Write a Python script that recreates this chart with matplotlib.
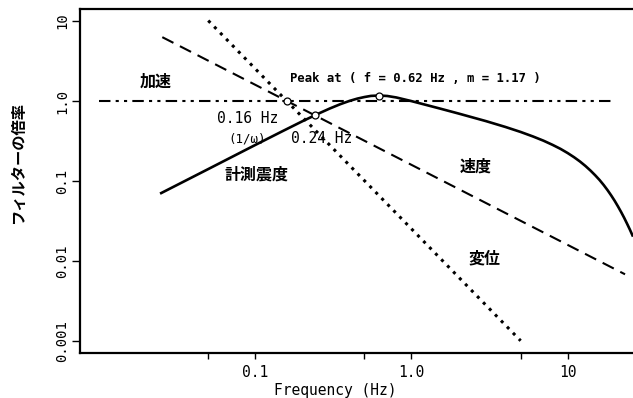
import matplotlib
matplotlib.use("Agg")
import matplotlib.pyplot as plt

# acceleration / velocity / displacement reference lines (Hz, ratio)
acc_f = [0.01, 20.0]
acc_v = [1.0, 1.0]
vel_f = [0.0254, 23.3]
vel_v = [6.27, 0.00683]
dis_f = [0.05, 5.0]
dis_v = [10.1, 0.00101]

# seismic intensity filter curve
jma_f = [0.025, 0.05, 0.1, 0.15, 0.2, 0.25, 0.3, 0.35, 0.4, 0.45, 0.5, 0.55,
         0.62, 0.7, 0.8, 1.0, 1.5, 2.0, 3.0, 4.0, 5.0, 6.0, 7.0, 8.0, 9.0, 10.0,
         11.0, 12.0, 13.0, 14.0, 15.0, 16.0, 17.0, 18.0, 19.0, 20.0, 21.0, 22.0,
         23.0, 24.0, 25.0, 26.0]
jma_v = [0.0707, 0.141, 0.282, 0.421, 0.557, 0.686, 0.805, 0.911, 1.00, 1.07,
         1.12, 1.157, 1.17, 1.154, 1.106, 0.996, 0.810, 0.697, 0.560, 0.473,
         0.410, 0.360, 0.319, 0.283, 0.252, 0.2235, 0.198, 0.175, 0.154, 0.135,
         0.118, 0.103, 0.0892, 0.0769, 0.0660, 0.0565, 0.0481, 0.0409, 0.0347,
         0.0293, 0.0248, 0.0209]

# marked points
pt_f = [0.159, 0.24, 0.62]
pt_v = [1.0, 0.663, 1.17]

xticks = [0.05, 0.1, 0.5, 1.0, 5.0, 10.0]
xtick_labels = ["", "0.1", "", "1.0", "", "10"]
yticks = [0.001, 0.01, 0.1, 1.0, 10.0]
ytick_labels = ["0.001", "0.01", "0.1", "1.0", "10"]

mono = ["DejaVu Sans Mono", "Noto Sans CJK JP"]
jp = ["Noto Sans CJK JP", "DejaVu Sans"]

fig = plt.figure(figsize=(6.33, 3.98), dpi=100)
ax = fig.add_axes([80/633, 1-352.5/398, 553/633, 344/398])

ax.plot(acc_f, acc_v, color="black", lw=1.5, dashes=(5.5, 2.5, 1.5, 2.5, 1.5, 2.5))
ax.plot(vel_f, vel_v, color="black", lw=1.5, dashes=(6, 3.5))
ax.plot(dis_f, dis_v, color="black", lw=2.2, linestyle=(0, (1, 1.8)))
ax.plot(jma_f, jma_v, color="black", lw=1.9)
ax.plot(pt_f, pt_v, "o", ms=5, mfc="white", mec="black", mew=0.9, zorder=5)

ax.set_xscale("log")
ax.set_yscale("log")
ax.set_xlim(0.00755, 26.2)
ax.set_ylim(7.2e-4, 14.3)
ax.minorticks_off()
ax.set_xticks(xticks)
ax.set_xticklabels(xtick_labels, family=mono, fontsize=10.5)
ax.set_yticks(yticks)
ax.set_yticklabels(ytick_labels, family=mono, fontsize=10, rotation=90, va="center")
ax.tick_params(axis="x", length=4, width=1, pad=5)
ax.tick_params(axis="y", length=6, width=1, pad=2)
for s in ["left", "bottom", "top"]:
    ax.spines[s].set_linewidth(1.6)
ax.spines["right"].set_visible(False)

ax.text(0.0229, 1.75, "加速", family=jp, fontsize=11.5, fontweight="bold", ha="center", va="center")
ax.text(0.1675, 1.91, "Peak at ( f = 0.62 Hz , m = 1.17 )", family=mono, fontsize=8.8,
        fontweight="semibold", ha="left", va="center")
ax.text(0.0889, 0.604, "0.16 Hz", family=mono, fontsize=10.5, ha="center", va="center")
ax.text(0.0889, 0.339, "(1/ω)", family=mono, fontsize=9, ha="center", va="center")
ax.text(0.265, 0.339, "0.24 Hz", family=mono, fontsize=10.5, ha="center", va="center")
ax.text(0.1015, 0.12, "計測震度", family=jp, fontsize=11.5, fontweight="bold", ha="center", va="center")
ax.text(2.57, 0.151, "速度", family=jp, fontsize=11.5, fontweight="bold", ha="center", va="center")
ax.text(2.94, 0.0109, "変位", family=jp, fontsize=11.5, fontweight="bold", ha="center", va="center")

fig.text(335/633, 1-391/398, "Frequency (Hz)", family=mono, fontsize=10.5,
         ha="center", va="center")
fig.text(18/633, 1-163/398, "フィルターの倍率", family=jp, fontsize=11, fontweight="bold",
         rotation=90, ha="center", va="center")

fig.savefig("out.png", dpi=100)
